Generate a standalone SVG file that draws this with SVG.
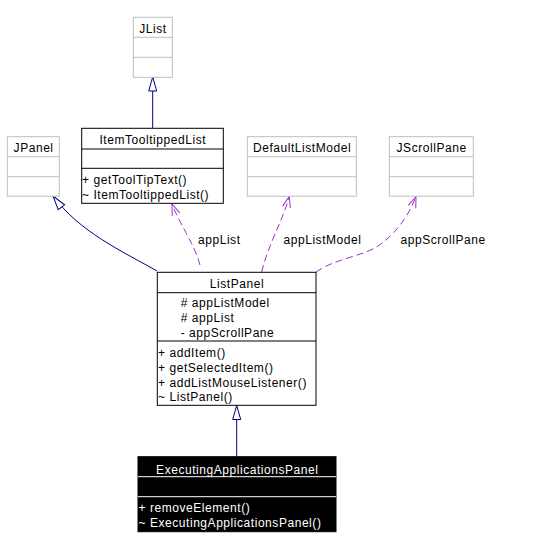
<svg xmlns="http://www.w3.org/2000/svg" width="537" height="548" viewBox="0 0 537 548">
<style>
text{font-family:"Liberation Sans",Arial,sans-serif;font-size:12px;letter-spacing:0.55px;fill:#000}
.c{text-anchor:middle}
.g{fill:#fff;stroke:#bfbfbf;stroke-width:1}
.gl{stroke:#bfbfbf;stroke-width:1}
.b{fill:#fff;stroke:#000;stroke-width:1}
.bl{stroke:#000;stroke-width:1}
.k{fill:#000;stroke:#000;stroke-width:1}
.wl{stroke:#fff;stroke-width:1}
.w{fill:#fff}
.inh{fill:none;stroke:#000080;stroke-width:1}
.dep{fill:none;stroke:#9a32cd;stroke-width:1;stroke-dasharray:7,4}
</style>
<defs>
<marker id="tri" markerUnits="userSpaceOnUse" markerWidth="16" markerHeight="10" refX="14" refY="4" orient="auto" overflow="visible">
<path d="M0,0 L14,4 L0,8 Z" fill="#fff" stroke="#000080" stroke-width="1"/>
</marker>
<marker id="opn" markerUnits="userSpaceOnUse" markerWidth="12" markerHeight="10" refX="11" refY="4" orient="auto" overflow="visible">
<path d="M0,0 L11,4 L0,8" fill="none" stroke="#9a32cd" stroke-width="1"/>
</marker>
</defs>
<rect width="537" height="548" fill="#fff"/>
<g id="connectors">
<path class="inh" d="M152.7,128 L152.7,77" marker-end="url(#tri)"/>
<path class="inh" d="M157,271 C120,250 80,232 53,196" marker-end="url(#tri)"/>
<path class="inh" d="M236.7,457 L236.7,405.5" marker-end="url(#tri)"/>
<path class="dep" d="M200,265 C195,245 180,225 172,204" marker-end="url(#opn)"/>
<path class="dep" d="M261.7,272 C268,245 283,220 289.3,196.5" marker-end="url(#opn)"/>
<path class="dep" d="M316,272 C330,262 350,258 366,252 C385,245 405,225 416,196.5" marker-end="url(#opn)"/>
<text x="198" y="244">appList</text>
<text x="283.5" y="244">appListModel</text>
<text x="400.5" y="244">appScrollPane</text>
</g>
<g id="JList">
<rect class="g" x="133.3" y="17.3" width="39" height="60"/>
<line class="gl" x1="133.3" y1="37.3" x2="172.3" y2="37.3"/>
<line class="gl" x1="133.3" y1="57.3" x2="172.3" y2="57.3"/>
<text class="c" x="153" y="32.5">JList</text>
</g>
<g id="ItemTooltippedList">
<rect class="b" x="81.7" y="128.3" width="141.6" height="75"/>
<line class="bl" x1="81.7" y1="149" x2="223.3" y2="149"/>
<line class="bl" x1="81.7" y1="168.3" x2="223.3" y2="168.3"/>
<text class="c" x="152.8" y="144">ItemTooltippedList</text>
<text x="82" y="184">+ getToolTipText()</text>
<text x="82" y="199">~ ItemTooltippedList()</text>
</g>
<g id="JPanel">
<rect class="g" x="7.3" y="136.7" width="52" height="59.5"/>
<line class="gl" x1="7.3" y1="156.7" x2="59.3" y2="156.7"/>
<line class="gl" x1="7.3" y1="176.7" x2="59.3" y2="176.7"/>
<text class="c" x="33.6" y="152">JPanel</text>
</g>
<g id="DefaultListModel">
<rect class="g" x="247.3" y="136.7" width="109" height="59.5"/>
<line class="gl" x1="247.3" y1="156.7" x2="356.3" y2="156.7"/>
<line class="gl" x1="247.3" y1="176.7" x2="356.3" y2="176.7"/>
<text class="c" x="302.1" y="152">DefaultListModel</text>
</g>
<g id="JScrollPane">
<rect class="g" x="389.3" y="136.7" width="84" height="59.5"/>
<line class="gl" x1="389.3" y1="156.7" x2="473.3" y2="156.7"/>
<line class="gl" x1="389.3" y1="176.7" x2="473.3" y2="176.7"/>
<text class="c" x="431.6" y="152">JScrollPane</text>
</g>
<g id="ListPanel">
<rect class="b" x="157.3" y="272.3" width="158.7" height="133"/>
<line class="bl" x1="157.3" y1="292.7" x2="316" y2="292.7"/>
<line class="bl" x1="157.3" y1="341" x2="316" y2="341"/>
<text class="c" x="237" y="288">ListPanel</text>
<text x="180.7" y="307"># appListModel</text>
<text x="180.7" y="322"># appList</text>
<text x="180.7" y="337">- appScrollPane</text>
<text x="158" y="357">+ addItem()</text>
<text x="158" y="372">+ getSelectedItem()</text>
<text x="158" y="387">+ addListMouseListener()</text>
<text x="158" y="401">~ ListPanel()</text>
</g>
<g id="ExecutingApplicationsPanel">
<rect class="k" x="138" y="456.7" width="198" height="75"/>
<line class="wl" x1="138" y1="476.7" x2="336" y2="476.7"/>
<line class="wl" x1="138" y1="496.7" x2="336" y2="496.7"/>
<text class="c w" x="237.3" y="473.5">ExecutingApplicationsPanel</text>
<text class="w" x="138.5" y="512">+ removeElement()</text>
<text class="w" x="138.5" y="527">~ ExecutingApplicationsPanel()</text>
</g>
</svg>
